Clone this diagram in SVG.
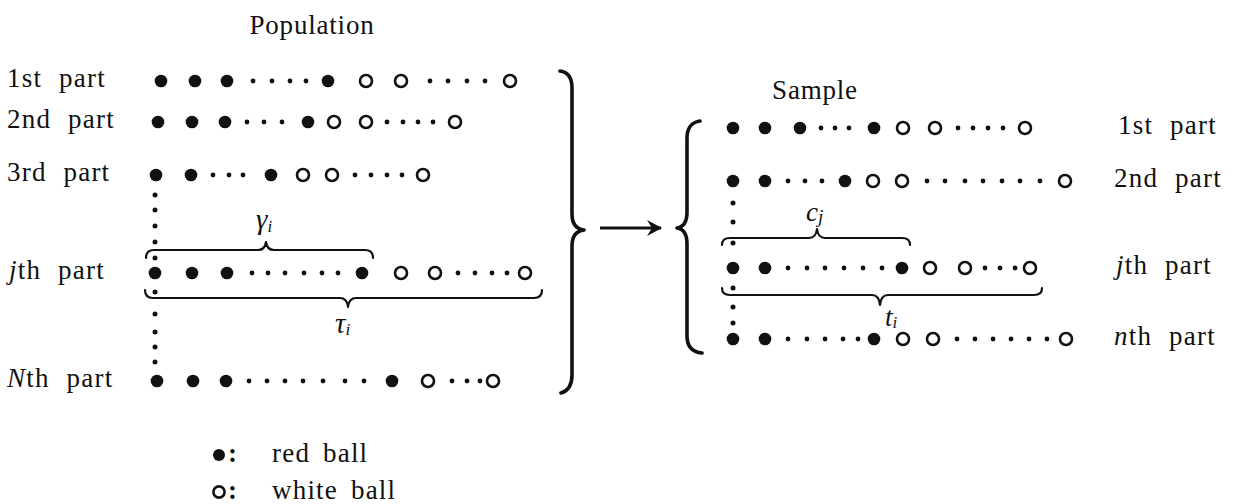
<svg xmlns="http://www.w3.org/2000/svg" width="1240" height="504" viewBox="0 0 1240 504">
<defs>
<style>
.t{font-family:"Liberation Serif","Times New Roman",serif;font-size:27px;fill:#111;letter-spacing:1.2px;word-spacing:9px}
.m{font-family:"Liberation Serif","Times New Roman",serif;font-style:italic;fill:#111}
.r{fill:#111}
.w{fill:none;stroke:#111;stroke-width:2.6}
.d{fill:#111}
.br{fill:none;stroke:#111;stroke-width:2.2;stroke-linecap:round;stroke-linejoin:round}
.bb{fill:none;stroke:#111;stroke-width:3.6;stroke-linecap:round;stroke-linejoin:round}
</style>
<marker id="ah" viewBox="0 0 20 20" refX="16" refY="10" markerWidth="20" markerHeight="20" markerUnits="userSpaceOnUse" orient="auto">
<path d="M2,2 L17,10 L2,18 L7,10 Z" fill="#111"/>
</marker>
</defs>
<rect width="1240" height="504" fill="#fff"/>

<g id="population">
<text class="t" x="312" y="34" text-anchor="middle" style="letter-spacing:0.8px">Population</text>
<g id="pop-row1">
<text class="t" x="7" y="87">1st part</text>
<circle class="r" cx="161" cy="81" r="6.3"/><circle class="r" cx="195" cy="81" r="6.3"/><circle class="r" cx="227" cy="81" r="6.3"/>
<circle class="d" cx="253" cy="81" r="2.4"/><circle class="d" cx="272" cy="81" r="2.4"/><circle class="d" cx="290" cy="81" r="2.4"/><circle class="d" cx="306" cy="81" r="2.4"/>
<circle class="r" cx="328" cy="81" r="6.3"/>
<circle class="w" cx="366" cy="81" r="6"/><circle class="w" cx="401" cy="81" r="6"/>
<circle class="d" cx="430" cy="81" r="2.4"/><circle class="d" cx="448" cy="81" r="2.4"/><circle class="d" cx="467" cy="81" r="2.4"/><circle class="d" cx="485" cy="81" r="2.4"/>
<circle class="w" cx="510" cy="81" r="6"/>
</g>
<g id="pop-row2">
<text class="t" x="7" y="128">2nd part</text>
<circle class="r" cx="158" cy="122" r="6.3"/><circle class="r" cx="192" cy="122" r="6.3"/><circle class="r" cx="225" cy="122" r="6.3"/>
<circle class="d" cx="247" cy="122" r="2.4"/><circle class="d" cx="264" cy="122" r="2.4"/><circle class="d" cx="282" cy="122" r="2.4"/>
<circle class="r" cx="308" cy="122" r="6.3"/>
<circle class="w" cx="334" cy="122" r="6"/><circle class="w" cx="366" cy="122" r="6"/>
<circle class="d" cx="387" cy="122" r="2.4"/><circle class="d" cx="403" cy="122" r="2.4"/><circle class="d" cx="418" cy="122" r="2.4"/><circle class="d" cx="433" cy="122" r="2.4"/>
<circle class="w" cx="455" cy="122" r="6"/>
</g>
<g id="pop-row3">
<text class="t" x="7" y="181">3rd part</text>
<circle class="r" cx="156" cy="175" r="6.3"/><circle class="r" cx="191" cy="175" r="6.3"/>
<circle class="d" cx="213" cy="175" r="2.4"/><circle class="d" cx="229" cy="175" r="2.4"/><circle class="d" cx="243" cy="175" r="2.4"/>
<circle class="r" cx="271" cy="175" r="6.3"/>
<circle class="w" cx="303" cy="175" r="6"/><circle class="w" cx="332" cy="175" r="6"/>
<circle class="d" cx="355" cy="175" r="2.4"/><circle class="d" cx="371" cy="175" r="2.4"/><circle class="d" cx="387" cy="175" r="2.4"/><circle class="d" cx="402" cy="175" r="2.4"/>
<circle class="w" cx="423" cy="175" r="6"/>
</g>
<g id="pop-vdots">
<circle class="d" cx="155" cy="195" r="2.5"/><circle class="d" cx="155" cy="210" r="2.5"/><circle class="d" cx="155" cy="226" r="2.5"/><circle class="d" cx="155" cy="242" r="2.5"/><circle class="d" cx="155" cy="258" r="2.5"/>
<circle class="d" cx="155" cy="292" r="2.5"/><circle class="d" cx="155" cy="314" r="2.5"/><circle class="d" cx="155" cy="332" r="2.5"/><circle class="d" cx="155" cy="347" r="2.5"/><circle class="d" cx="155" cy="362" r="2.5"/>
</g>
<g id="pop-rowj">
<text class="t" x="9" y="279"><tspan font-style="italic">j</tspan>th part</text>
<circle class="r" cx="155" cy="273" r="6.3"/><circle class="r" cx="192" cy="273" r="6.3"/><circle class="r" cx="227" cy="273" r="6.3"/>
<circle class="d" cx="252" cy="273" r="2.4"/><circle class="d" cx="268" cy="273" r="2.4"/><circle class="d" cx="285" cy="273" r="2.4"/><circle class="d" cx="304" cy="273" r="2.4"/><circle class="d" cx="322" cy="273" r="2.4"/><circle class="d" cx="338" cy="273" r="2.4"/>
<circle class="r" cx="362" cy="273" r="6.3"/>
<circle class="w" cx="401" cy="273" r="6"/><circle class="w" cx="435" cy="273" r="6"/>
<circle class="d" cx="458" cy="273" r="2.4"/><circle class="d" cx="475" cy="273" r="2.4"/><circle class="d" cx="492" cy="273" r="2.4"/><circle class="d" cx="507" cy="273" r="2.4"/>
<circle class="w" cx="525" cy="273" r="6"/>
</g>
<g id="pop-gamma">
<path class="br" d="M146,258 Q146,250 154,250 L258,250 Q265,250 266,242 Q267,250 274,250 L365,250 Q373,250 373,258"/>
<text class="m" x="256" y="229" font-size="29">γ<tspan font-size="17" dy="3">i</tspan></text>
</g>
<g id="pop-tau">
<path class="br" d="M145,290 Q145,298 153,298 L340,298 Q347,298 348,307 Q349,298 356,298 L534,298 Q542,298 542,290"/>
<text class="m" x="335" y="333" font-size="29">τ<tspan font-size="17" dy="2">i</tspan></text>
</g>
<g id="pop-rowN">
<text class="t" x="7" y="387"><tspan font-style="italic">N</tspan>th part</text>
<circle class="r" cx="157" cy="381" r="6.3"/><circle class="r" cx="193" cy="381" r="6.3"/><circle class="r" cx="226" cy="381" r="6.3"/>
<circle class="d" cx="249" cy="381" r="2.4"/><circle class="d" cx="267" cy="381" r="2.4"/><circle class="d" cx="285" cy="381" r="2.4"/><circle class="d" cx="303" cy="381" r="2.4"/><circle class="d" cx="323" cy="381" r="2.4"/><circle class="d" cx="345" cy="381" r="2.4"/><circle class="d" cx="364" cy="381" r="2.4"/>
<circle class="r" cx="392" cy="381" r="6.3"/>
<circle class="w" cx="428" cy="381" r="6"/>
<circle class="d" cx="452" cy="381" r="2.4"/><circle class="d" cx="467" cy="381" r="2.4"/><circle class="d" cx="480" cy="381" r="2.4"/>
<circle class="w" cx="493" cy="381" r="6"/>
</g>
</g>

<g id="connectors">
<path id="brace-pop" class="bb" d="M560,71 C568,72 572,78 572,88 L572,214 C572,223 576,229 584,230 C576,231 572,237 572,246 L572,375 C572,385 568,391 561,393"/>
<line id="arrow" x1="600" y1="228" x2="661" y2="228" stroke="#111" stroke-width="3" marker-end="url(#ah)"/>
<path id="brace-sample" class="bb" d="M700,121 C692,122 687,128 687,138 L687,212 C687,222 684,227 677,228 C684,229 687,234 687,244 L687,336 C687,346 692,352 702,353"/>
</g>

<g id="sample">
<text class="t" x="815" y="99" text-anchor="middle" style="letter-spacing:0.8px">Sample</text>
<g id="smp-row1">
<circle class="r" cx="733" cy="128" r="6.3"/><circle class="r" cx="765" cy="128" r="6.3"/><circle class="r" cx="800" cy="128" r="6.3"/>
<circle class="d" cx="821" cy="128" r="2.4"/><circle class="d" cx="835" cy="128" r="2.4"/><circle class="d" cx="849" cy="128" r="2.4"/>
<circle class="r" cx="874" cy="128" r="6.3"/>
<circle class="w" cx="903" cy="128" r="6"/><circle class="w" cx="935" cy="128" r="6"/>
<circle class="d" cx="958" cy="128" r="2.4"/><circle class="d" cx="973" cy="128" r="2.4"/><circle class="d" cx="988" cy="128" r="2.4"/><circle class="d" cx="1003" cy="128" r="2.4"/>
<circle class="w" cx="1025" cy="128" r="6"/>
<text class="t" x="1118" y="134">1st part</text>
</g>
<g id="smp-row2">
<circle class="r" cx="733" cy="181" r="6.3"/><circle class="r" cx="765" cy="181" r="6.3"/>
<circle class="d" cx="788" cy="181" r="2.4"/><circle class="d" cx="805" cy="181" r="2.4"/><circle class="d" cx="822" cy="181" r="2.4"/>
<circle class="r" cx="845" cy="181" r="6.3"/>
<circle class="w" cx="873" cy="181" r="6"/><circle class="w" cx="902" cy="181" r="6"/>
<circle class="d" cx="927" cy="181" r="2.4"/><circle class="d" cx="945" cy="181" r="2.4"/><circle class="d" cx="965" cy="181" r="2.4"/><circle class="d" cx="983" cy="181" r="2.4"/><circle class="d" cx="1002" cy="181" r="2.4"/><circle class="d" cx="1020" cy="181" r="2.4"/><circle class="d" cx="1040" cy="181" r="2.4"/>
<circle class="w" cx="1065" cy="181" r="6"/>
<text class="t" x="1114" y="187">2nd part</text>
</g>
<g id="smp-vdots">
<circle class="d" cx="733" cy="203" r="2.5"/><circle class="d" cx="733" cy="222" r="2.5"/><circle class="d" cx="733" cy="243" r="2.5"/>
<circle class="d" cx="733" cy="288" r="2.5"/><circle class="d" cx="733" cy="307" r="2.5"/><circle class="d" cx="733" cy="323" r="2.5"/>
</g>
<g id="smp-c">
<path class="br" d="M722,245 Q722,238 730,238 L809,238 Q816,238 817,229 Q818,238 825,238 L902,238 Q910,238 910,245"/>
<text class="m" x="806" y="221" font-size="27">c<tspan font-size="19" dy="2">j</tspan></text>
</g>
<g id="smp-rowj">
<circle class="r" cx="733" cy="268" r="6.3"/><circle class="r" cx="765" cy="268" r="6.3"/>
<circle class="d" cx="788" cy="268" r="2.4"/><circle class="d" cx="807" cy="268" r="2.4"/><circle class="d" cx="825" cy="268" r="2.4"/><circle class="d" cx="844" cy="268" r="2.4"/><circle class="d" cx="863" cy="268" r="2.4"/><circle class="d" cx="882" cy="268" r="2.4"/>
<circle class="r" cx="902" cy="268" r="6.3"/>
<circle class="w" cx="930" cy="268" r="6"/><circle class="w" cx="965" cy="268" r="6"/>
<circle class="d" cx="985" cy="268" r="2.4"/><circle class="d" cx="1000" cy="268" r="2.4"/><circle class="d" cx="1015" cy="268" r="2.4"/>
<circle class="w" cx="1030" cy="268" r="6"/>
<text class="t" x="1116" y="274"><tspan font-style="italic">j</tspan>th part</text>
</g>
<g id="smp-t">
<path class="br" d="M722,288 Q722,295 730,295 L872,295 Q879,295 880,305 Q881,295 888,295 L1034,295 Q1042,295 1042,288"/>
<text class="m" x="885" y="326" font-size="27">t<tspan font-size="17" dy="2">i</tspan></text>
</g>
<g id="smp-rown">
<circle class="r" cx="733" cy="339" r="6.3"/><circle class="r" cx="765" cy="339" r="6.3"/>
<circle class="d" cx="788" cy="339" r="2.4"/><circle class="d" cx="807" cy="339" r="2.4"/><circle class="d" cx="825" cy="339" r="2.4"/><circle class="d" cx="843" cy="339" r="2.4"/><circle class="d" cx="858" cy="339" r="2.4"/>
<circle class="r" cx="874" cy="339" r="6.3"/>
<circle class="w" cx="903" cy="339" r="6"/><circle class="w" cx="933" cy="339" r="6"/>
<circle class="d" cx="957" cy="339" r="2.4"/><circle class="d" cx="975" cy="339" r="2.4"/><circle class="d" cx="993" cy="339" r="2.4"/><circle class="d" cx="1011" cy="339" r="2.4"/><circle class="d" cx="1029" cy="339" r="2.4"/><circle class="d" cx="1047" cy="339" r="2.4"/>
<circle class="w" cx="1066" cy="339" r="6"/>
<text class="t" x="1114" y="345"><tspan font-style="italic">n</tspan>th part</text>
</g>
</g>

<g id="legend">
<g id="legend-red">
<circle class="r" cx="219" cy="455" r="6"/>
<text class="t" x="228" y="462" font-weight="bold">:</text>
<text class="t" x="272" y="462" style="word-spacing:5px">red ball</text>
</g>
<g id="legend-white">
<circle class="w" cx="219" cy="492" r="5.6"/>
<text class="t" x="228" y="499" font-weight="bold">:</text>
<text class="t" x="272" y="499" style="word-spacing:5px">white ball</text>
</g>
</g>
</svg>
